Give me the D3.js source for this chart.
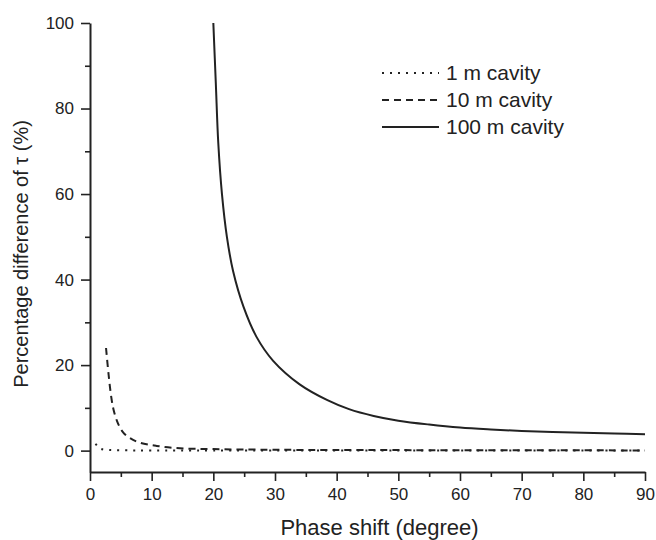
<!DOCTYPE html>
<html>
<head>
<meta charset="utf-8">
<script src="https://cdn.jsdelivr.net/npm/d3@7"></script>
<style>
  body { margin: 0; background: #fff; }
  text { font-family: "Liberation Sans", Arial, sans-serif; fill: #222; }
</style>
</head>
<body>
<script>
var width = 656, height = 540;
var margin = {left: 90, right: 11, top: 23, bottom: 68};

// values: [phase shift (deg), percentage difference (%)]
var cavity1m = [[0.9, 1.6], [1.5, 0.6], [2, 0.3], [3, 0.15], [5, 0.08], [10, 0.04], [20, 0.02], [50, 0.01], [90, 0]];
var cavity10m = [[2.6, 24], [3, 18], [3.4, 13], [3.8, 9.7], [4.5, 6.5], [5.4, 4.2], [6.5, 2.9], [8, 1.9],
                 [10.8, 1.1], [14.6, 0.55], [20, 0.35], [30, 0.2], [50, 0.12], [90, 0.05]];
var cavity100m = [[20, 100], [20.4, 86], [20.8, 72], [21.4, 60], [22.2, 50], [23.2, 42], [24.9, 33.6],
                  [27, 26.6], [29.7, 21], [34, 15.5], [38.5, 11.8], [42, 9.7], [46, 8.1], [50, 7],
                  [55, 6.1], [60, 5.4], [65, 4.95], [70, 4.6], [75, 4.35], [80, 4.15], [85, 3.98], [90, 3.85]];

var seriesNames = ["1 m cavity", "10 m cavity", "100 m cavity"];
var seriesData = [cavity1m, cavity10m, cavity100m];
var seriesDash = ["2,6", "7,5", null];

var xMajor = [0, 10, 20, 30, 40, 50, 60, 70, 80, 90];
var xMinor = [5, 15, 25, 35, 45, 55, 65, 75, 85];
var yMajor = [0, 20, 40, 60, 80, 100];
var yMinor = [10, 30, 50, 70, 90];

var svg = d3.select("body").append("svg")
    .attr("width", width)
    .attr("height", height);

var x = d3.scaleLinear().domain([0, 90]).range([margin.left, width - margin.right]);
var y = d3.scaleLinear().domain([-5, 100]).range([height - margin.bottom, margin.top]);

// x axis
var xAxisG = svg.append("g").attr("transform", "translate(0," + (height - margin.bottom) + ")");
xAxisG.call(d3.axisBottom(x).tickValues(xMajor).tickSize(9).tickPadding(7).tickSizeOuter(0));
xAxisG.append("g").call(d3.axisBottom(x).tickValues(xMinor).tickSize(5).tickFormat("").tickSizeOuter(0))
    .select(".domain").remove();

// y axis
var yAxisG = svg.append("g").attr("transform", "translate(" + margin.left + ",0)");
yAxisG.call(d3.axisLeft(y).tickValues(yMajor).tickSize(9).tickPadding(7).tickSizeOuter(0));
yAxisG.append("g").call(d3.axisLeft(y).tickValues(yMinor).tickSize(5).tickFormat("").tickSizeOuter(0))
    .select(".domain").remove();

svg.selectAll(".domain").attr("stroke", "#222").attr("stroke-width", 2);
svg.selectAll(".tick line").attr("stroke", "#222").attr("stroke-width", 1.6);
svg.selectAll(".tick text").style("font-size", "17px").attr("fill", "#222");

// axis titles
svg.append("text")
    .attr("x", (x(0) + x(90)) / 2 + 12)
    .attr("y", 535)
    .attr("text-anchor", "middle")
    .style("font-size", "22px")
    .text("Phase shift (degree)");

svg.append("text")
    .attr("transform", "translate(28," + y(46) + ") rotate(-90)")
    .attr("text-anchor", "middle")
    .style("font-size", "20px")
    .text("Percentage difference of \u03c4 (%)");

// curves
var line = d3.line()
    .x(function(d) { return x(d[0]); })
    .y(function(d) { return y(d[1]); })
    .curve(d3.curveCatmullRom.alpha(0.5));

seriesData.forEach(function(data, i) {
    svg.append("path")
        .datum(data)
        .attr("d", line)
        .attr("fill", "none")
        .attr("stroke", "#222")
        .attr("stroke-width", 2)
        .attr("stroke-dasharray", seriesDash[i]);
});

// legend
var legendX = 382, legendY = 73, legendGap = 27;
seriesNames.forEach(function(name, i) {
    var ly = legendY + i * legendGap;
    svg.append("line")
        .attr("x1", legendX)
        .attr("x2", legendX + 57)
        .attr("y1", ly)
        .attr("y2", ly)
        .attr("stroke", "#222")
        .attr("stroke-width", 2)
        .attr("stroke-dasharray", seriesDash[i]);
    svg.append("text")
        .attr("x", legendX + 64)
        .attr("y", ly + 7)
        .style("font-size", "21px")
        .text(name);
});
</script>
</body>
</html>
